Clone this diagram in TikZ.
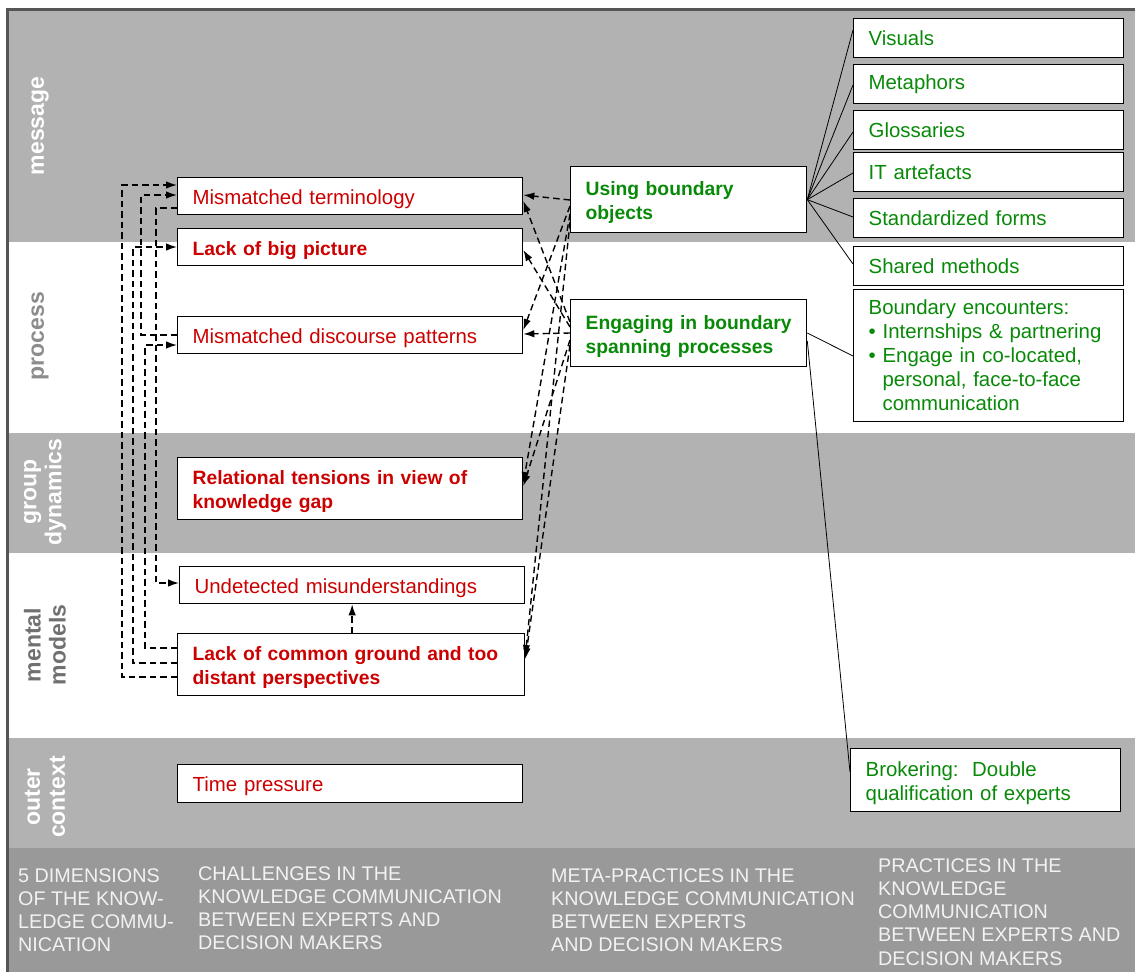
\documentclass[tikz,border=0pt]{standalone}
\usepackage{fontspec}
\setmainfont{Liberation Sans}
\usetikzlibrary{arrows.meta}
\definecolor{bandgray}{HTML}{B2B2B2}
\definecolor{botgray}{HTML}{999999}
\definecolor{framecol}{HTML}{555555}
\definecolor{chalred}{HTML}{CC0000}
\definecolor{pracgreen}{HTML}{088A08}
\definecolor{procgray}{HTML}{8C8C8C}
\definecolor{mentgray}{HTML}{707070}
\definecolor{bottext}{HTML}{F2F2F2}
\def\myboxrule{20pt}
\tikzset{
  rh/.code={\def\myboxrule{#1}},
  box/.style={draw=black, fill=white, line width=1.3pt, anchor=north west,
    inner xsep=15pt, inner ysep=0pt, align=left,
    execute at begin node={\rule{0pt}{\myboxrule}}},
  nf/.style={font=\fontsize{20.4}{24}\selectfont},
  bf/.style={font=\fontsize{19.3}{24}\selectfont\bfseries},
  chal/.style={box, text=chalred, text width=315pt},
  meta/.style={box, bf, text=pracgreen, text width=206pt},
  prac/.style={box, nf, text=pracgreen, text width=240pt, rh=14pt},
  lbl/.style={rotate=90, align=center, font=\fontsize{23}{25}\selectfont\bfseries},
  bot/.style={anchor=north west, inner sep=0pt, align=left, text=bottext,
    font=\fontsize{19.75}{23.3}\selectfont},
  dc/.style={line width=1.4pt, dash pattern=on 6.5pt off 4pt,
    -{Latex[length=11pt,width=7.5pt]}},
  sl/.style={line width=0.8pt, black}
}
\begin{document}
\begin{tikzpicture}[x=1pt,y=-1pt]
\useasboundingbox (0,0) rectangle (1135,972);
% background bands
\fill[white] (0,0) rectangle (1135,972);
\fill[bandgray] (7,9) rectangle (1135,242);
\fill[bandgray] (7,433) rectangle (1135,553);
\fill[bandgray] (7,738) rectangle (1135,848);
\fill[botgray] (7,848) rectangle (1135,972);
\draw[framecol, line width=3pt] (7,972) -- (7,9) -- (1135,9);

% dimension labels
\node[lbl, text=white] (lmsg) at (40,126) {message};
\node[lbl, text=procgray] (lproc) at (40,336) {process};
\node[lbl, text=white] (lgrp) at (45,492) {group\\dynamics};
\node[lbl, text=mentgray] (lment) at (45,645) {mental\\models};
\node[lbl, text=white] (louter) at (45,797) {outer\\context};

% challenges
\node[chal, nf, minimum height=37pt] (term) at (177,177) {Mismatched terminology};
\node[chal, bf, minimum height=37pt] (big) at (177,228) {Lack of big picture};
\node[chal, nf, minimum height=37pt] (disc) at (177,316) {Mismatched discourse patterns};
\node[chal, bf, minimum height=62pt] (rel) at (177,457) {Relational tensions in view of\\knowledge gap};
\node[chal, nf, minimum height=37pt] (und) at (179,566) {Undetected misunderstandings};
\node[chal, bf, minimum height=62pt, text width=317pt] (cg) at (177,633) {Lack of common ground and too\\distant perspectives};
\node[chal, nf, minimum height=38pt] (time) at (177,764) {Time pressure};

% meta-practices
\node[meta, minimum height=66pt] (using) at (570,166) {Using boundary\\objects};
\node[meta, minimum height=67pt] (engaging) at (570,299) {Engaging in boundary\\spanning processes};

% practices
\node[prac, minimum height=39pt] (visuals) at (853,18) {Visuals};
\node[prac, minimum height=39pt] (metaphors) at (853,64) {Metaphors};
\node[prac, minimum height=39pt] (glossaries) at (853,110) {Glossaries};
\node[prac, minimum height=39pt] (itart) at (853,152) {IT artefacts};
\node[prac, minimum height=39pt] (stdforms) at (853,198) {Standardized forms};
\node[prac, minimum height=39pt] (shared) at (853,246) {Shared methods};
\node[prac, minimum height=132pt] (encounters) at (853,289) {Boundary encounters:\\
  \textbullet\ Internships \& partnering\\
  \textbullet\ Engage in co-located,\\
  \phantom{\textbullet\ }personal, face-to-face\\
  \phantom{\textbullet\ }communication};
\node[prac, rh=20pt, minimum height=63pt] (brokering) at (850,748) {Brokering:\ \ Double\\qualification of experts};

% bottom captions
\node[bot] (c1) at (18,868) {5 DIMENSIONS\\OF THE KNOW-\\LEDGE COMMU-\\NICATION};
\node[bot] (c2) at (198,866) {CHALLENGES IN THE\\KNOWLEDGE COMMUNICATION\\BETWEEN EXPERTS AND\\DECISION MAKERS};
\node[bot] (c3) at (551,868) {META-PRACTICES IN THE\\KNOWLEDGE COMMUNICATION\\BETWEEN EXPERTS\\AND DECISION MAKERS};
\node[bot] (c4) at (878,858) {PRACTICES IN THE\\KNOWLEDGE\\COMMUNICATION\\BETWEEN EXPERTS AND\\DECISION MAKERS};

% solid lines meta -> practices
\draw[sl] (using.east) -- (visuals.west |- 0,30);
\draw[sl] (using.east) -- (metaphors.west |- 0,85);
\draw[sl] (using.east) -- (glossaries.west |- 0,132);
\draw[sl] (using.east) -- (itart.west |- 0,173);
\draw[sl] (using.east) -- (stdforms.west |- 0,217);
\draw[sl] (using.east) -- (shared.west |- 0,264);
\draw[sl] (engaging.east |- 0,333) -- (encounters.west |- 0,356);
\draw[sl] (engaging.east |- 0,341) -- (brokering.west |- 0,772);

% left dashed elbow connectors
\draw[dc] (cg.west |- 0,677) -- (122,677) -- (122,185) -- (term.west |- 0,185);
\draw[dc] (cg.west |- 0,663) -- (133,663) -- (133,247) -- (big.west |- 0,247);
\draw[dc] (cg.west |- 0,648) -- (145,648) -- (145,345) -- (disc.west |- 0,345);
\draw[dc] (disc.west |- 0,335) -- (141,335) -- (141,195) -- (term.west |- 0,195);
\draw[dc] (term.west |- 0,208) -- (156,208) -- (156,583) -- (und.west |- 0,583);
\draw[dc] (cg.north -| und.south) -- (und.south);

% right dashed connectors
\draw[dc] (using.west |- 0,200) -- (term.east |- 0,195);
\draw[dc] (using.west |- 0,206) -- (disc.east |- 0,330);
\draw[dc] (using.west |- 0,214) -- (rel.east |- 0,483);
\draw[dc] (using.west |- 0,222) -- (cg.east |- 0,656);
\draw[dc] (engaging.west |- 0,322) -- (term.east |- 0,201);
\draw[dc] (engaging.west |- 0,327) -- (big.east |- 0,250);
\draw[dc] (engaging.west |- 0,333) -- (disc.east |- 0,334);
\draw[dc] (engaging.west |- 0,340) -- (rel.east |- 0,486);
\draw[dc] (engaging.west |- 0,345) -- (cg.east |- 0,659);
\end{tikzpicture}
\end{document}
